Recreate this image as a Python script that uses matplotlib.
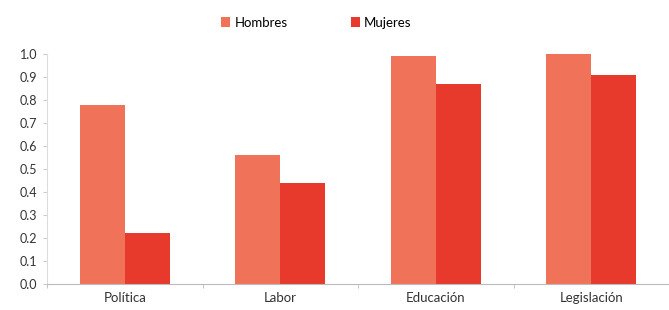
import matplotlib
matplotlib.use("Agg")
import matplotlib.pyplot as plt
import numpy as np

plt.rcParams['font.family'] = ['Lato', 'DejaVu Sans']

categories = ["Política", "Labor", "Educación", "Legislación"]
hombres = [0.78, 0.56, 0.99, 1.00]
mujeres = [0.22, 0.44, 0.87, 0.91]
yticks = [0.0, 0.1, 0.2, 0.3, 0.4, 0.5, 0.6, 0.7, 0.8, 0.9, 1.0]

c_h = "#F07258"
c_m = "#E8392D"

fig = plt.figure(figsize=(6.69, 3.10), dpi=100)
ax = fig.add_axes([47/669, 1-284/310, 622/669, 230/310])

x = np.arange(len(categories))
w = 0.29
ax.bar(x - w/2, hombres, w, color=c_h, label="Hombres")
ax.bar(x + w/2, mujeres, w, color=c_m, label="Mujeres")

ax.set_xlim(-0.5, len(categories) - 0.5)
ax.set_ylim(0, 1.0)
ax.set_yticks(yticks)
ax.set_yticklabels([f"{v:.1f}" for v in yticks], fontsize=9, color="#333333")
ax.set_xticks(x)
ax.set_xticklabels(categories, fontsize=9.5, color="#333333")
ax.tick_params(axis='x', length=0, pad=6)
ax.set_xticks(np.arange(len(categories) + 1) - 0.5, minor=True)
ax.tick_params(axis='x', which='minor', length=3, color="#bbbbbb", direction='out')
ax.tick_params(axis='y', length=3, color="#cccccc", pad=4)

for s in ["top", "right"]:
    ax.spines[s].set_visible(False)
ax.spines["left"].set_color("#dddddd")
ax.spines["bottom"].set_color("#bbbbbb")

fig.legend(loc="upper center", bbox_to_anchor=(0.473, 0.985), ncol=2, frameon=False,
           fontsize=9.5, handlelength=0.7, handleheight=0.7, columnspacing=4.8,
           handletextpad=0.3)

fig.savefig("out.png", dpi=100)
